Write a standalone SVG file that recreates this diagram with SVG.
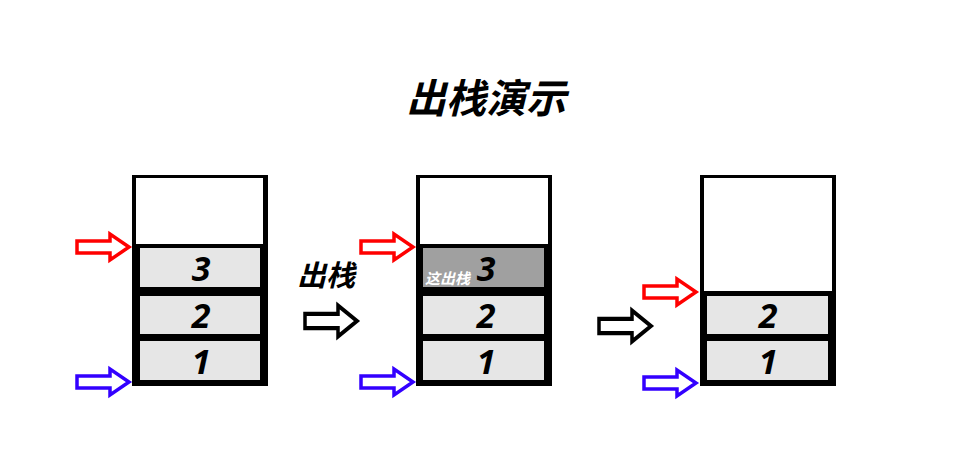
<svg xmlns="http://www.w3.org/2000/svg" width="953" height="461" viewBox="0 0 953 461">
<style>
.t{font-family:"Noto Sans CJK SC","Noto Sans",sans-serif;font-weight:bold;font-style:italic}
.n{font-family:"Open Sans","Noto Sans",sans-serif;font-weight:bold;font-style:italic;font-size:34px;text-anchor:middle}
.cell{fill:#e6e6e6}
.top{fill:#fff}
.ar{fill:#fff;stroke-width:3.5}
</style>
<defs>
<path id="arr" d="M0,-6 H33 V-13 L52,0 L33,13 V6 H0 Z"/>
</defs>
<rect width="953" height="461" fill="#fff"/>
<text class="t" x="486" y="113" font-size="40" text-anchor="middle">出栈演示</text>
<g id="stack1">
<rect x="132" y="175" width="136" height="211" fill="#000"/>
<rect class="top" x="136" y="178" width="127" height="66"/>
<rect class="cell" x="140" y="248" width="120" height="39"/>
<rect class="cell" x="140" y="296" width="120" height="38"/>
<rect class="cell" x="140" y="341" width="120" height="39"/>
<text class="n" x="201" y="281">3</text>
<text class="n" x="201" y="328">2</text>
<text class="n" x="201" y="374">1</text>
</g>
<g id="stack2">
<rect x="416" y="175" width="136" height="211" fill="#000"/>
<rect class="top" x="420" y="178" width="128" height="66"/>
<rect x="423" y="248" width="121" height="39" fill="#a0a0a0"/>
<rect class="cell" x="423" y="296" width="121" height="38"/>
<rect class="cell" x="423" y="341" width="121" height="39"/>
<text class="n" x="486" y="281">3</text>
<text class="t" x="425" y="284" font-size="15" fill="#fff">这出栈</text>
<text class="n" x="486" y="328">2</text>
<text class="n" x="486" y="374">1</text>
</g>
<g id="stack3">
<rect x="700" y="175" width="136" height="211" fill="#000"/>
<rect class="top" x="704" y="178" width="128" height="113"/>
<rect class="cell" x="707" y="296" width="121" height="38"/>
<rect class="cell" x="707" y="341" width="121" height="39"/>
<text class="n" x="768" y="328">2</text>
<text class="n" x="768" y="374">1</text>
</g>
<text class="t" x="297" y="286" font-size="29">出栈</text>
<g id="connectors">
<use href="#arr" class="ar" stroke="#f00" transform="translate(77,247)"/>
<use href="#arr" class="ar" stroke="#3300ff" transform="translate(77,382)"/>
<use href="#arr" class="ar" stroke="#f00" transform="translate(361,247)"/>
<use href="#arr" class="ar" stroke="#3300ff" transform="translate(361,382)"/>
<use href="#arr" class="ar" stroke="#f00" transform="translate(644,292)"/>
<use href="#arr" class="ar" stroke="#3300ff" transform="translate(644,383)"/>
<use href="#arr" class="ar" stroke="#000" transform="translate(305,321) scale(1,1.2)"/>
<use href="#arr" class="ar" stroke="#000" transform="translate(599,326) scale(1,1.2)"/>
</g>
</svg>
